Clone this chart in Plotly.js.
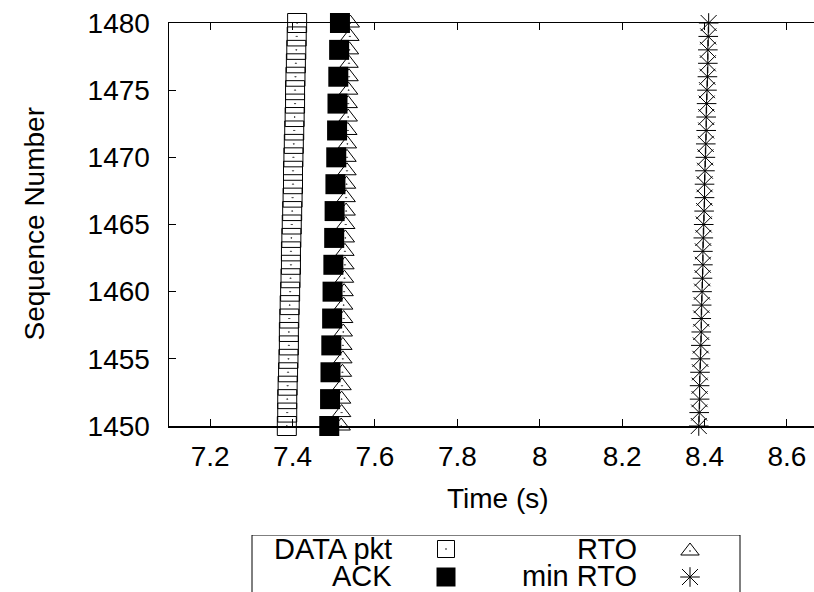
<!DOCTYPE html>
<html>
<head>
<meta charset="utf-8">
<script src="https://cdn.plot.ly/plotly-3.0.1.min.js"></script>
<style>html,body{margin:0;padding:0;background:#fff;}#chart{width:814px;height:592px;}</style>
</head>
<body>
<div id="chart"></div>
<script>
// ---- data ----
const seqData = [1450,1451,1452,1453,1454,1455,1456,1457,1458,1459,1460,1461,1462,1463,1464,1465,1466,1467,1468,1469,1470,1471,1472,1473,1474,1475,1476,1477,1478,1479,1480];
const timeData = [7.386,7.387,7.387,7.388,7.389,7.390,7.391,7.391,7.392,7.393,7.394,7.395,7.396,7.396,7.397,7.398,7.399,7.400,7.401,7.401,7.402,7.403,7.404,7.405,7.406,7.406,7.407,7.408,7.409,7.410,7.411];
const seqAck = [1450,1452,1454,1456,1458,1460,1462,1464,1466,1468,1470,1472,1474,1476,1478,1480];
const timeAck = [7.489,7.491,7.492,7.494,7.496,7.497,7.499,7.501,7.502,7.504,7.506,7.508,7.509,7.511,7.513,7.515];
const seqRto = [1450,1451,1452,1453,1454,1455,1456,1457,1458,1459,1460,1461,1462,1463,1464,1465,1466,1467,1468,1469,1470,1471,1472,1473,1474,1475,1476,1477,1478,1479,1480];
const timeRto = [7.518,7.519,7.519,7.520,7.521,7.522,7.522,7.523,7.524,7.524,7.525,7.526,7.527,7.527,7.528,7.529,7.530,7.530,7.531,7.532,7.532,7.533,7.534,7.535,7.535,7.536,7.537,7.537,7.538,7.539,7.540];
const seqMinRto = [1450,1451,1452,1453,1454,1455,1456,1457,1458,1459,1460,1461,1462,1463,1464,1465,1466,1467,1468,1469,1470,1471,1472,1473,1474,1475,1476,1477,1478,1479,1480];
const timeMinRto = [8.386,8.387,8.388,8.388,8.389,8.390,8.391,8.392,8.392,8.393,8.394,8.395,8.396,8.396,8.397,8.398,8.399,8.400,8.400,8.401,8.402,8.403,8.404,8.404,8.405,8.406,8.407,8.408,8.408,8.409,8.410];

const xTickVals = [7.2,7.4,7.6,7.8,8.0,8.2,8.4,8.6];
const xTickText = ["7.2","7.4","7.6","7.8","8","8.2","8.4","8.6"];
const yTickVals = [1450,1455,1460,1465,1470,1475,1480];
const yTickText = ["1450","1455","1460","1465","1470","1475","1480"];
const seriesNames = ["DATA pkt","ACK","RTO","min RTO"];

// ---- styling ----
const FONT = "Liberation Sans, Arial, Helvetica, sans-serif";
const FS = 28;
const W = 814, H = 592, ML = 169, MT = 23;
const K = '#000';

const traces = [
  {x: timeData, y: seqData, type:'scatter', mode:'markers', name: seriesNames[0], cliponaxis:false,
   marker:{symbol:'square-open-dot', size:19, color:K, line:{width:1, color:K}}},
  {x: timeRto, y: seqRto, type:'scatter', mode:'markers', name: seriesNames[2], cliponaxis:false,
   marker:{symbol:'triangle-up-open-dot', size:16, color:K, line:{width:1, color:K}}},
  {x: timeAck, y: seqAck, type:'scatter', mode:'markers', name: seriesNames[1], cliponaxis:false,
   marker:{symbol:'square', size:20, color:K, line:{width:0}}},
  {x: timeMinRto, y: seqMinRto, type:'scatter', mode:'markers', name: seriesNames[3], cliponaxis:false,
   marker:{symbol:'cross-thin-open', size:14, color:K, line:{width:1, color:K}}},
  {x: timeMinRto, y: seqMinRto, type:'scatter', mode:'markers', name: seriesNames[3], cliponaxis:false, showlegend:false,
   marker:{symbol:'x-thin-open', size:16, color:K, line:{width:1, color:K}}},
  // legend symbols (on a hidden pixel-scaled axis below the plot)
  {x:[446], y:[549], xaxis:'x2', yaxis:'y2', type:'scatter', mode:'markers', showlegend:false, hoverinfo:'skip',
   marker:{symbol:'square-open-dot', size:17, color:K, line:{width:1, color:K}}},
  {x:[446], y:[577], xaxis:'x2', yaxis:'y2', type:'scatter', mode:'markers', showlegend:false, hoverinfo:'skip',
   marker:{symbol:'square', size:19, color:K, line:{width:0}}},
  {x:[690], y:[551], xaxis:'x2', yaxis:'y2', type:'scatter', mode:'markers', showlegend:false, hoverinfo:'skip',
   marker:{symbol:'triangle-up-open-dot', size:16, color:K, line:{width:1, color:K}}},
  {x:[690], y:[577], xaxis:'x2', yaxis:'y2', type:'scatter', mode:'markers', showlegend:false, hoverinfo:'skip',
   marker:{symbol:'cross-thin-open', size:14, color:K, line:{width:1, color:K}}},
  {x:[690], y:[577], xaxis:'x2', yaxis:'y2', type:'scatter', mode:'markers', showlegend:false, hoverinfo:'skip',
   marker:{symbol:'x-thin-open', size:16, color:K, line:{width:1, color:K}}}
];

const paperH = H - MT;
const axFont = {family:FONT, size:FS, color:K};
const legFont = {family:FONT, size:29, color:K};
const legAnn = (text, x, y) => ({text, xref:'x2', yref:'y2', x, y, xanchor:'right', yanchor:'middle',
  showarrow:false, borderpad:0, borderwidth:0, font:legFont});
const layout = {
  width: W, height: H,
  margin: {l: ML, r: 0, t: MT, b: 0, pad: 0},
  paper_bgcolor: '#fff', plot_bgcolor: '#fff',
  showlegend: false,
  font: axFont,
  xaxis: {
    domain:[0,1], anchor:'y', range:[7.1, 8.6657],
    tickvals: xTickVals, ticktext: xTickText,
    ticks:'inside', ticklen:7, tickwidth:1, tickcolor:K,
    showline:true, linecolor:K, linewidth:1.5, mirror:'ticks',
    showgrid:false, zeroline:false, ticklabelstandoff: 5,
    tickfont: axFont
  },
  yaxis: {
    domain:[(H-426)/paperH, 1], anchor:'x', range:[1450,1480],
    tickvals: yTickVals, ticktext: yTickText,
    ticks:'inside', ticklen:7, tickwidth:1, tickcolor:K,
    showline:true, linecolor:K, linewidth:1.5, mirror:false,
    showgrid:false, zeroline:false, ticklabelstandoff: 12,
    tickfont: axFont
  },
  xaxis2: {domain:[0,1], anchor:'y2', range:[ML, W], visible:false, fixedrange:true},
  yaxis2: {domain:[0, (H-535)/paperH], anchor:'x2', range:[592, 535], visible:false, fixedrange:true},
  shapes: [
    {type:'rect', xref:'x2', yref:'y2', x0:252, x1:740, y0:535, y1:600, line:{color:K, width:1}, fillcolor:'rgba(0,0,0,0)'}
  ],
  annotations: [
    {text:'Sequence Number', xref:'paper', yref:'paper', x:(34-ML)/(W-ML), y:(H-224.5)/paperH,
     textangle:-90, showarrow:false, xanchor:'center', yanchor:'middle', font:axFont},
    {text:'Time (s)', xref:'paper', yref:'paper', x:(498-ML)/(W-ML), y:(H-498)/paperH,
     showarrow:false, xanchor:'center', yanchor:'middle', font:axFont},
    legAnn(seriesNames[0], 392, 549),
    legAnn(seriesNames[1], 392, 576),
    legAnn(seriesNames[2], 637, 549),
    legAnn(seriesNames[3], 637, 576)
  ]
};

Plotly.newPlot('chart', traces, layout, {displayModeBar:false, staticPlot:true});
</script>
</body>
</html>
